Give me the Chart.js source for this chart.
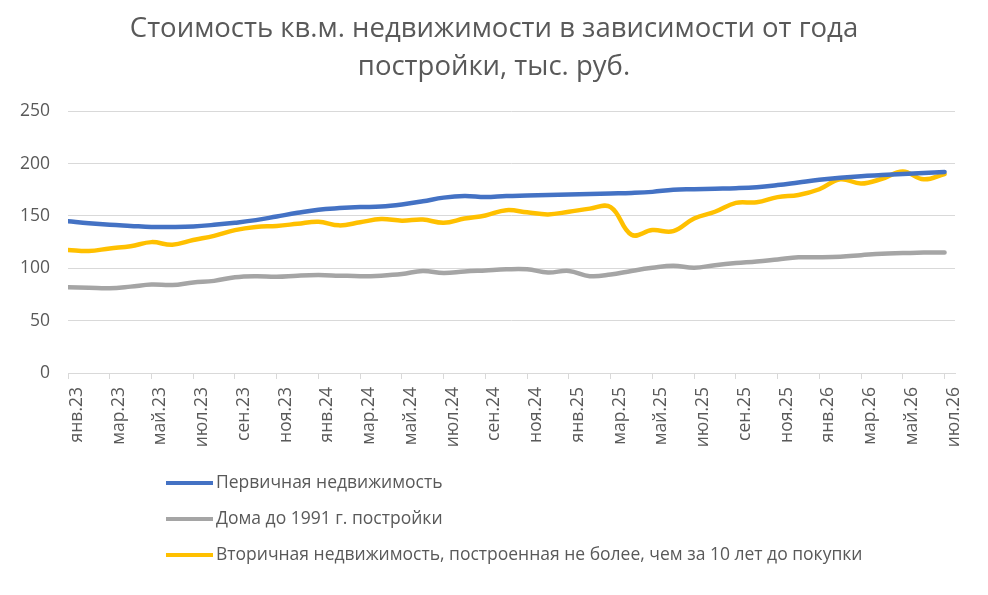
<!DOCTYPE html>
<html><head><meta charset="utf-8">
<script src="https://cdn.jsdelivr.net/npm/chart.js@4.4.1/dist/chart.umd.min.js"></script>
<style>html,body{margin:0;padding:0;background:#fff}#wrap{width:988px;height:595px;position:relative}</style>
</head><body><div id="wrap"><canvas id="c" width="988" height="595"></canvas></div>
<script>
const months = [
  "янв.23","фев.23","мар.23","апр.23","май.23","июн.23","июл.23","авг.23","сен.23","окт.23","ноя.23","дек.23",
  "янв.24","фев.24","мар.24","апр.24","май.24","июн.24","июл.24","авг.24","сен.24","окт.24","ноя.24","дек.24",
  "янв.25","фев.25","мар.25","апр.25","май.25","июн.25","июл.25","авг.25","сен.25","окт.25","ноя.25","дек.25",
  "янв.26","фев.26","мар.26","апр.26","май.26","июн.26","июл.26"
];
const primary = [145,143,141.5,140.5,139.5,139.5,140,141.5,143.5,146,149.5,153,156,157.5,158.5,159,161,164,167.5,169,168,169,169.5,170,170.5,171,171.5,172,173,175,175.5,176,176.5,177.5,179.5,182,184.5,186.5,188,189,190,191,192];
const oldHouses = [82,81.5,81,82.5,84.5,84,86.5,88,91.5,92.5,92,93,93.5,93,92.5,93,94.5,97.5,95.5,97,98,99,99,96,97.5,92.5,94,97.5,100.5,102.5,100.5,103,105,106.5,108.5,110.5,110.5,111,112.5,114,114.5,115,115];
const secondary = [117.5,116.5,119,121,125,122.5,127,131,136.5,139.5,140.5,142.5,144.5,141,144,147,145.5,146.5,143.5,147.5,150.5,155.5,153.5,151.5,154,157,158.5,132,136.5,135.5,147.5,154,162.5,163,168,170,175.5,185,181,185.5,192.5,185,190];
const seriesNames = ["Первичная недвижимость","Дома до 1991 г. постройки","Вторичная недвижимость, построенная не более, чем за 10 лет до покупки"];
const titleLines = ["Стоимость кв.м. недвижимости в зависимости от года","постройки, тыс. руб."];
const yMin = 0, yMax = 250, yStep = 50;

const textColor = '#595959';
const fontFam = '"Open Sans", "Noto Sans", sans-serif';

const stackLegend = {
  id: 'stackLegend',
  afterDraw(chart) {
    const ctx = chart.ctx;
    const top = chart.chartArea.bottom + 110;
    ctx.save();
    ctx.font = '17.5px ' + fontFam;
    ctx.textBaseline = 'middle';
    ctx.textAlign = 'left';
    chart.data.datasets.forEach((ds, i) => {
      const y = top + i * 36;
      ctx.strokeStyle = ds.borderColor;
      ctx.lineWidth = 4;
      ctx.lineCap = 'butt';
      ctx.beginPath(); ctx.moveTo(166, y); ctx.lineTo(213, y); ctx.stroke();
      ctx.fillStyle = textColor;
      ctx.fillText(ds.label, 216, y);
    });
    ctx.restore();
  }
};

const toPts = arr => arr.map((v, i) => ({x: i, y: v}));
const mk = (label, arr, color) => ({
  label, data: toPts(arr), borderColor: color, backgroundColor: color,
  borderWidth: 4.5, pointRadius: 0, tension: 0.4, fill: false, borderCapStyle: 'round'
});

new Chart(document.getElementById('c'), {
  type: 'line',
  data: {
    datasets: [
      mk(seriesNames[0], primary, '#4472C4'),
      mk(seriesNames[1], oldHouses, '#A5A5A5'),
      mk(seriesNames[2], secondary, '#FFC000')
    ]
  },
  options: {
    responsive: false,
    animation: false,
    devicePixelRatio: 1,
    layout: {padding: {left: 0, right: 0, top: 0, bottom: 142}},
    plugins: {
      legend: {display: false},
      tooltip: {enabled: false},
      title: {
        display: true, text: titleLines, color: textColor,
        font: {family: fontFam, size: 27.5, weight: 'normal', lineHeight: 1.35},
        padding: {top: 11, bottom: 26}
      }
    },
    scales: {
      x: {
        type: 'linear', min: 0, max: months.length - 0.5,
        ticks: {
          stepSize: 2, includeBounds: false, autoSkip: false,
          minRotation: 90, maxRotation: 90,
          callback: v => months[v] || '',
          color: textColor, font: {family: fontFam, size: 17.5}, padding: 8, labelOffset: 9
        },
        grid: {drawOnChartArea: false, drawTicks: true, tickLength: 6, color: '#d9d9d9'},
        border: {display: true, color: '#d9d9d9', width: 1},
        afterFit: s => { s.height = 80; }
      },
      y: {
        min: yMin, max: yMax,
        ticks: {stepSize: yStep, color: textColor, font: {family: fontFam, size: 17.5}, padding: 18},
        grid: {color: '#d9d9d9', drawTicks: false},
        border: {display: false},
        afterFit: s => { s.width = 68; }
      },
      yRight: {
        position: 'right', display: true,
        ticks: {display: false}, grid: {display: false}, border: {display: false},
        afterFit: s => { s.width = 33; }
      }
    }
  },
  plugins: [stackLegend]
});
</script>
</body></html>
